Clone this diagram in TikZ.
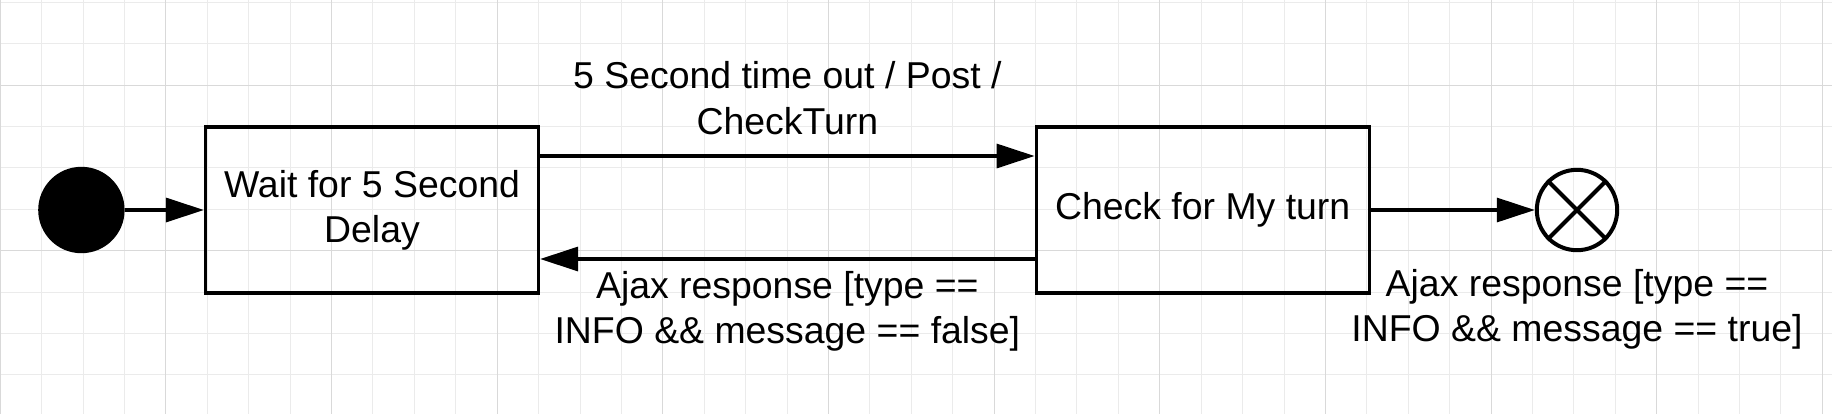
\documentclass[tikz,border=0pt]{standalone}
\usepackage{fontspec}
\setmainfont{Liberation Sans}
\usetikzlibrary{arrows.meta}
\begin{document}
\begin{tikzpicture}[x=0.5pt,y=-0.5pt,
    minor/.style={line width=0.5pt,black!8},
    major/.style={line width=0.5pt,black!15},
    txt/.style={font=\fontsize{18.7pt}{22.65pt}\selectfont,align=center},
    statebox/.style={draw,line width=1.6pt,txt,minimum width=166.5pt,minimum height=83pt,inner sep=0pt},
    lbl/.style={txt,inner sep=0pt},
    tr/.style={line width=1.6pt,-{Triangle[length=19pt,width=12pt]}}]
  \useasboundingbox (0,0) rectangle (1832,414);
  % background grid
  \foreach \k in {0,...,44}
    \draw[minor] ({0.3+41.41*\k},0) -- ({0.3+41.41*\k},414);
  \foreach \k in {0,...,9}
    \draw[minor] (0,{2.2+41.41*\k}) -- (1832,{2.2+41.41*\k});
  \foreach \k in {0,4,...,44}
    \draw[major] ({0.3+41.41*\k},0) -- ({0.3+41.41*\k},414);
  \foreach \k in {2,6}
    \draw[major] (0,{2.2+41.41*\k}) -- (1832,{2.2+41.41*\k});
  % states
  \node[circle,fill=black,minimum size=43.2pt,inner sep=0pt] (init) at (81.4,210) {};
  \node[statebox] (wait) at (372,210) {Wait for 5 Second\\Delay};
  \node[statebox] (check) at (1202.7,210) {Check for My turn};
  \node[circle,draw,line width=2pt,minimum size=40.2pt,inner sep=0pt] (fin) at (1577,210) {};
  \draw[line width=2pt] (fin.north west) -- (fin.south east) (fin.north east) -- (fin.south west);
  % transitions
  \draw[tr] (init) -- (wait);
  \draw[tr] ([yshift=27pt]wait.east) -- ([yshift=27pt]check.west)
    node[lbl,midway,above=10pt] (tolbl) {5 Second time out / Post /\\CheckTurn};
  \draw[tr] ([yshift=-24.5pt]check.west) -- ([yshift=-24.5pt]wait.east)
    node[lbl,midway,below=5.25pt] (falselbl) {Ajax response [type ==\\INFO \&\& message == false]};
  \draw[tr] (check) -- (fin);
  \node[lbl,below=8.4pt] (truelbl) at (fin.south) {Ajax response [type ==\\INFO \&\& message == true]};
\end{tikzpicture}
\end{document}
